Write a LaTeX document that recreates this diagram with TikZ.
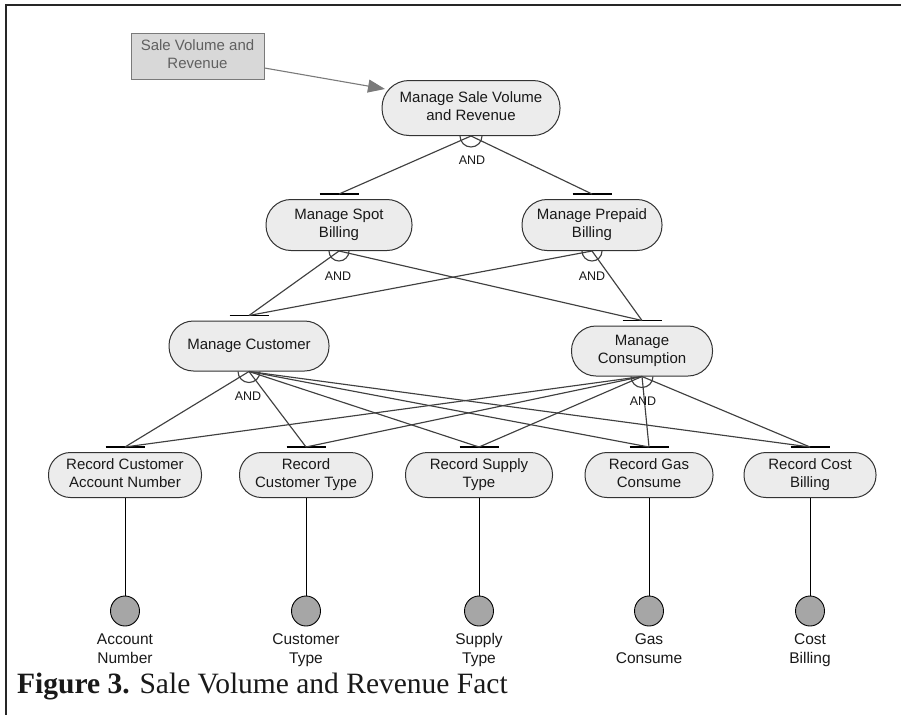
\documentclass[tikz,border=0pt]{standalone}
\usepackage{fontspec}
\setmainfont{Liberation Sans}
\newfontfamily\capfont{Liberation Serif}
\usetikzlibrary{arrows.meta,shapes.geometric}
\definecolor{nodefill}{HTML}{ECECEC}
\definecolor{nodeline}{HTML}{333333}
\definecolor{linkcol}{HTML}{404040}
\definecolor{svfill}{HTML}{D8D8D8}
\definecolor{svline}{HTML}{7A7A7A}
\definecolor{svtext}{HTML}{606060}
\definecolor{attrfill}{HTML}{A6A6A6}
\newcommand{\tl}[2]{\strut #1\\\strut #2}
\begin{document}
\begin{tikzpicture}[x=1pt,y=-1pt,
  goal/.style n args={3}{draw=nodeline, fill=nodefill, line width=1pt,
     minimum width=#1pt, minimum height=#2pt, rounded corners=#3pt,
     inner sep=0pt, align=center, text=black!90,
     font=\fontsize{15}{18}\selectfont},
  link/.style={draw=linkcol, line width=1.15pt},
  bar/.style={draw=black, line width=1.1pt},
  andlbl/.style={font=\fontsize{12.5}{14}\selectfont, text=black!90},
  attr/.style={ellipse, draw=black, fill=attrfill, line width=0.9pt,
     minimum width=29pt, minimum height=30pt, inner sep=0pt},
  attrlbl/.style={align=center, font=\fontsize{15.5}{19}\selectfont, text=black!90},
  arr/.style={draw=svline, line width=1.1pt, -{Triangle[length=17pt,width=13pt,fill=svline]}}
]
\useasboundingbox (0,0) rectangle (901,715);
% frame
\draw[line width=1.4pt, black!85] (901,5) -- (6,5) -- (6,715);

% source rectangle
\node[draw=svline, fill=svfill, line width=1pt, minimum width=133pt, minimum height=46pt,
      inner sep=0pt, align=center, text=svtext, font=\fontsize{15}{18}\selectfont]
      (sv) at (197.5,56) {\tl{Sale Volume and}{Revenue}};

% goals
\node[goal={178}{55}{27}] (top)  at (471,108) {\tl{Manage Sale Volume}{and Revenue}};
\node[goal={146}{51}{25}] (spot) at (339,225) {\tl{Manage Spot}{Billing}};
\node[goal={140}{51}{25}] (prep) at (592,225) {\tl{Manage Prepaid}{Billing}};
\node[goal={160}{50}{24.5}] (cust) at (249,346) {\strut Manage Customer};
\node[goal={141}{50}{24.5}] (cons) at (642,351) {\tl{Manage}{Consumption}};
\node[goal={153}{45}{22}] (r1) at (125,475) {\tl{Record Customer}{Account Number}};
\node[goal={133}{45}{22}] (r2) at (306,475) {\tl{Record}{Customer Type}};
\node[goal={147}{45}{22}] (r3) at (479,475) {\tl{Record Supply}{Type}};
\node[goal={128}{45}{22}] (r4) at (649,475) {\tl{Record Gas}{Consume}};
\node[goal={132}{45}{22}] (r5) at (810,475) {\tl{Record Cost}{Billing}};

% arrow from source
\coordinate (tip) at (385,89);
\draw[arr] ([yshift=-12pt]sv.east) -- (tip);

% bars above children
\foreach \n in {spot,prep,cust,cons,r1,r2,r3,r4,r5}{
  \coordinate (\n bar) at ([yshift=5pt]\n.north);
  \draw[bar] ([xshift=-19.5pt]\n bar) -- ([xshift=19.5pt]\n bar);
}

% decompositions
\draw[link] (top.south) -- (spotbar);
\draw[link] (top.south) -- (prepbar);
\draw[link] (spot.south) -- (custbar);
\draw[link] (spot.south) -- (consbar);
\draw[link] (prep.south) -- (custbar);
\draw[link] (prep.south) -- (consbar);
\foreach \r in {r1,r2,r3,r4,r5}{
  \draw[link] (cust.south) -- (\r bar);
  \draw[link] (cons.south) -- (\r bar);
}

% AND arcs and labels
\foreach \n/\rad in {top/11,spot/10,prep/10,cust/11,cons/11}{
  \draw[link] ([xshift=-\rad pt]\n.south) arc[start angle=180, end angle=360, radius=\rad pt];
}
\node[andlbl] (and1) at (472,160) {AND};
\node[andlbl] (and2) at (338,276) {AND};
\node[andlbl] (and3) at (592,276) {AND};
\node[andlbl] (and4) at (248,396) {AND};
\node[andlbl] (and5) at (643,401) {AND};

% attributes
\node[attr] (a1) at (125,611) {};
\node[attr] (a2) at (306,611) {};
\node[attr] (a3) at (479,611) {};
\node[attr] (a4) at (649,611) {};
\node[attr] (a5) at (810,611) {};
\foreach \i in {1,...,5}{ \draw[black, line width=0.9pt] (r\i.south) -- (a\i.north); }
\node[attrlbl] (l1) at (125,650) {\tl{Account}{Number}};
\node[attrlbl] (l2) at (306,650) {\tl{Customer}{Type}};
\node[attrlbl] (l3) at (479,650) {\tl{Supply}{Type}};
\node[attrlbl] (l4) at (649,650) {\tl{Gas}{Consume}};
\node[attrlbl] (l5) at (810,650) {\tl{Cost}{Billing}};

% caption
\node[anchor=west, inner sep=0pt, font=\capfont\fontsize{29.5}{31}\selectfont, text=black!90]
  (cap) at (17,687) {\textbf{Figure 3.} Sale Volume and Revenue Fact};
\end{tikzpicture}
\end{document}
